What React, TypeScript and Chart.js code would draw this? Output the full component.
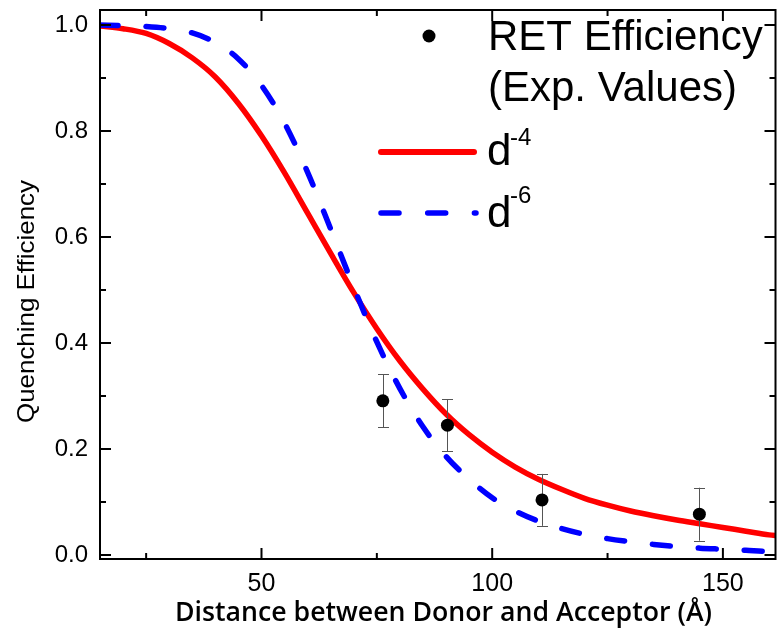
import React, { useEffect, useRef } from "react";
import { Chart, registerables } from "chart.js";

Chart.register(...registerables);

// ---- data ----
const distance = [15, 20, 25, 30, 35, 40, 45, 50, 55, 60, 65, 70, 75, 80, 85, 90, 95, 100, 105, 110, 115, 120, 125, 130, 135, 140, 145, 150, 155, 160, 162];
const dMinus4 = [0.998, 0.993, 0.984, 0.965, 0.938, 0.902, 0.852, 0.791, 0.721, 0.645, 0.569, 0.495, 0.427, 0.366, 0.313, 0.266, 0.227, 0.194, 0.166, 0.143, 0.124, 0.107, 0.094, 0.083, 0.074, 0.066, 0.059, 0.052, 0.045, 0.038, 0.036];
const dMinus6 = [1.0, 0.999, 0.997, 0.993, 0.985, 0.967, 0.936, 0.886, 0.815, 0.722, 0.615, 0.505, 0.402, 0.314, 0.242, 0.186, 0.143, 0.108, 0.083, 0.064, 0.05, 0.039, 0.031, 0.025, 0.02, 0.016, 0.013, 0.011, 0.009, 0.007, 0.007];

const expDistance = [76.3, 90.3, 110.8, 144.9];
const expEfficiency = [0.291, 0.245, 0.104, 0.077];
const expError = [0.05, 0.049, 0.049, 0.05];

const xTickValues = [50, 100, 150];
const xMinorTicks = [25, 75, 125];
const yTickValues = [0, 0.2, 0.4, 0.6, 0.8, 1.0];
const yMinorTicks = [0.1, 0.3, 0.5, 0.7, 0.9];

const xTitle = "Distance between Donor and Acceptor (\u00C5)";
const yTitle = "Quenching Efficiency";
const legendExp = ["RET Efficiency", "(Exp. Values)"];
const legendD4 = ["d", "-4"];
const legendD6 = ["d", "-6"];

const ARIAL = '"Liberation Sans", Arial, sans-serif';

export default function App() {
  const ref = useRef<HTMLCanvasElement>(null);

  useEffect(() => {
    const canvas = ref.current;
    if (!canvas) return;

    const errorBarPlugin = {
      id: "errorBars",
      beforeDatasetDraw(chart: any, args: any) {
        if (args.index !== 2) return;
        const ctx = chart.ctx;
        const xs = chart.scales.x;
        const ys = chart.scales.y;
        ctx.save();
        ctx.strokeStyle = "#555";
        ctx.lineWidth = 1;
        expDistance.forEach((d, i) => {
          const px = Math.round(xs.getPixelForValue(d)) + 0.5;
          const yTop = ys.getPixelForValue(expEfficiency[i] + expError[i]);
          const yBot = ys.getPixelForValue(expEfficiency[i] - expError[i]);
          ctx.beginPath();
          ctx.moveTo(px, yTop);
          ctx.lineTo(px, yBot);
          ctx.moveTo(px - 5.5, Math.round(yTop) + 0.5);
          ctx.lineTo(px + 5.5, Math.round(yTop) + 0.5);
          ctx.moveTo(px - 5.5, Math.round(yBot) + 0.5);
          ctx.lineTo(px + 5.5, Math.round(yBot) + 0.5);
          ctx.stroke();
        });
        ctx.restore();
      },
    };

    const framePlugin = {
      id: "frameAndLegend",
      afterDraw(chart: any) {
        const ctx = chart.ctx;
        const { left, right, top, bottom } = chart.chartArea;
        const xs = chart.scales.x;
        const ys = chart.scales.y;
        ctx.save();
        ctx.strokeStyle = "#000";
        ctx.lineWidth = 2;
        ctx.strokeRect(left, top, right - left, bottom - top);
        const line = (x1: number, y1: number, x2: number, y2: number) => {
          ctx.beginPath();
          ctx.moveTo(x1, y1);
          ctx.lineTo(x2, y2);
          ctx.stroke();
        };
        xTickValues.forEach((v) => {
          const p = xs.getPixelForValue(v);
          line(p, bottom, p, bottom - 11);
          line(p, top, p, top + 11);
        });
        xMinorTicks.forEach((v) => {
          const p = xs.getPixelForValue(v);
          line(p, bottom, p, bottom - 6);
          line(p, top, p, top + 6);
        });
        yTickValues.forEach((v) => {
          const p = ys.getPixelForValue(v);
          line(left, p, left + 11, p);
          line(right, p, right - 11, p);
        });
        yMinorTicks.forEach((v) => {
          const p = ys.getPixelForValue(v);
          line(left, p, left + 6, p);
          line(right, p, right - 6, p);
        });

        // x axis title (fitted to the reference width)
        ctx.fillStyle = "#000";
        ctx.textAlign = "center";
        ctx.textBaseline = "alphabetic";
        ctx.font = '600 27px "Open Sans", "Noto Sans", sans-serif';
        const wx = ctx.measureText(xTitle).width;
        ctx.save();
        ctx.translate(443.5, 621);
        ctx.scale(Math.min(1.1, 537 / wx), 1);
        ctx.fillText(xTitle, 0, 0);
        ctx.restore();

        // y axis title
        ctx.save();
        ctx.font = "24px " + ARIAL;
        const wy = ctx.measureText(yTitle).width;
        ctx.translate(34, 301.5);
        ctx.rotate(-Math.PI / 2);
        ctx.scale(Math.min(1.15, 243 / wy), 1);
        ctx.fillText(yTitle, 0, 0);
        ctx.restore();

        // legend
        ctx.textAlign = "left";
        ctx.beginPath();
        ctx.arc(429, 36, 6.5, 0, Math.PI * 2);
        ctx.fill();
        ctx.font = "42px " + ARIAL;
        ctx.fillText(legendExp[0], 488, 50);
        ctx.fillText(legendExp[1], 488, 101);

        ctx.lineCap = "round";
        ctx.lineWidth = 6;
        ctx.strokeStyle = "#ff0000";
        line(381, 152, 474, 152);
        ctx.strokeStyle = "#0000ff";
        ctx.lineWidth = 5.5;
        ctx.setLineDash([18, 28.7]);
        line(381, 213, 476, 213);
        ctx.setLineDash([]);

        ctx.font = "44px " + ARIAL;
        ctx.fillText(legendD4[0], 487, 165);
        ctx.fillText(legendD6[0], 487, 227);
        ctx.font = "24px " + ARIAL;
        ctx.fillText(legendD4[1], 510, 145);
        ctx.fillText(legendD6[1], 510, 203);
        ctx.restore();
      },
    };

    const chart = new Chart(canvas, {
      type: "line",
      data: {
        datasets: [
          {
            label: "d-4",
            data: distance.map((x, i) => ({ x, y: dMinus4[i] })),
            borderColor: "#ff0000",
            backgroundColor: "#ff0000",
            borderWidth: 5.5,
            pointRadius: 0,
            cubicInterpolationMode: "monotone",
            fill: false,
            order: 3,
          },
          {
            label: "d-6",
            data: distance.map((x, i) => ({ x, y: dMinus6[i] })),
            borderColor: "#0000ff",
            backgroundColor: "#0000ff",
            borderWidth: 5.5,
            borderDash: [18, 28],
            borderCapStyle: "round",
            pointRadius: 0,
            cubicInterpolationMode: "monotone",
            fill: false,
            order: 2,
          },
          {
            label: "RET Efficiency (Exp. Values)",
            data: expDistance.map((x, i) => ({ x, y: expEfficiency[i] })),
            showLine: false,
            pointRadius: 6.5,
            pointBackgroundColor: "#000",
            pointBorderColor: "#000",
            pointBorderWidth: 0,
            order: 1,
          },
        ],
      } as any,
      options: {
        responsive: false,
        animation: false,
        events: [],
        layout: { padding: { top: 10, right: 1, left: 0, bottom: 0 } },
        plugins: { legend: { display: false }, tooltip: { enabled: false } },
        scales: {
          x: {
            type: "linear",
            min: 15,
            max: 161.4,
            grid: { display: false, drawTicks: false },
            border: { display: false },
            afterBuildTicks: (axis: any) => {
              axis.ticks = xTickValues.map((v) => ({ value: v }));
            },
            afterFit: (axis: any) => {
              axis.height = 72;
              axis.paddingLeft = 0;
              axis.paddingRight = 0;
            },
            ticks: {
              font: { family: ARIAL, size: 25 },
              color: "#000",
              padding: 10,
              maxRotation: 0,
              autoSkip: false,
              callback: (v: any) => String(v),
            },
          },
          y: {
            type: "linear",
            min: -0.0075,
            max: 1.0283,
            grid: { display: false, drawTicks: false },
            border: { display: false },
            afterBuildTicks: (axis: any) => {
              axis.ticks = yTickValues.map((v) => ({ value: v }));
            },
            afterFit: (axis: any) => {
              axis.width = 100;
              axis.paddingTop = 0;
              axis.paddingBottom = 0;
            },
            ticks: {
              font: { family: ARIAL, size: 24 },
              color: "#000",
              padding: 12,
              autoSkip: false,
              callback: (v: any) => Number(v).toFixed(1),
            },
          },
        },
      } as any,
      plugins: [errorBarPlugin, framePlugin],
    });

    return () => chart.destroy();
  }, []);

  return (
    <div
      style={{
        position: "fixed",
        left: 0,
        top: 0,
        width: 780,
        height: 631,
        overflow: "hidden",
        background: "#fff",
      }}
    >
      <canvas ref={ref} width={782} height={631} style={{ display: "block", width: 782, height: 631 }} />
    </div>
  );
}
